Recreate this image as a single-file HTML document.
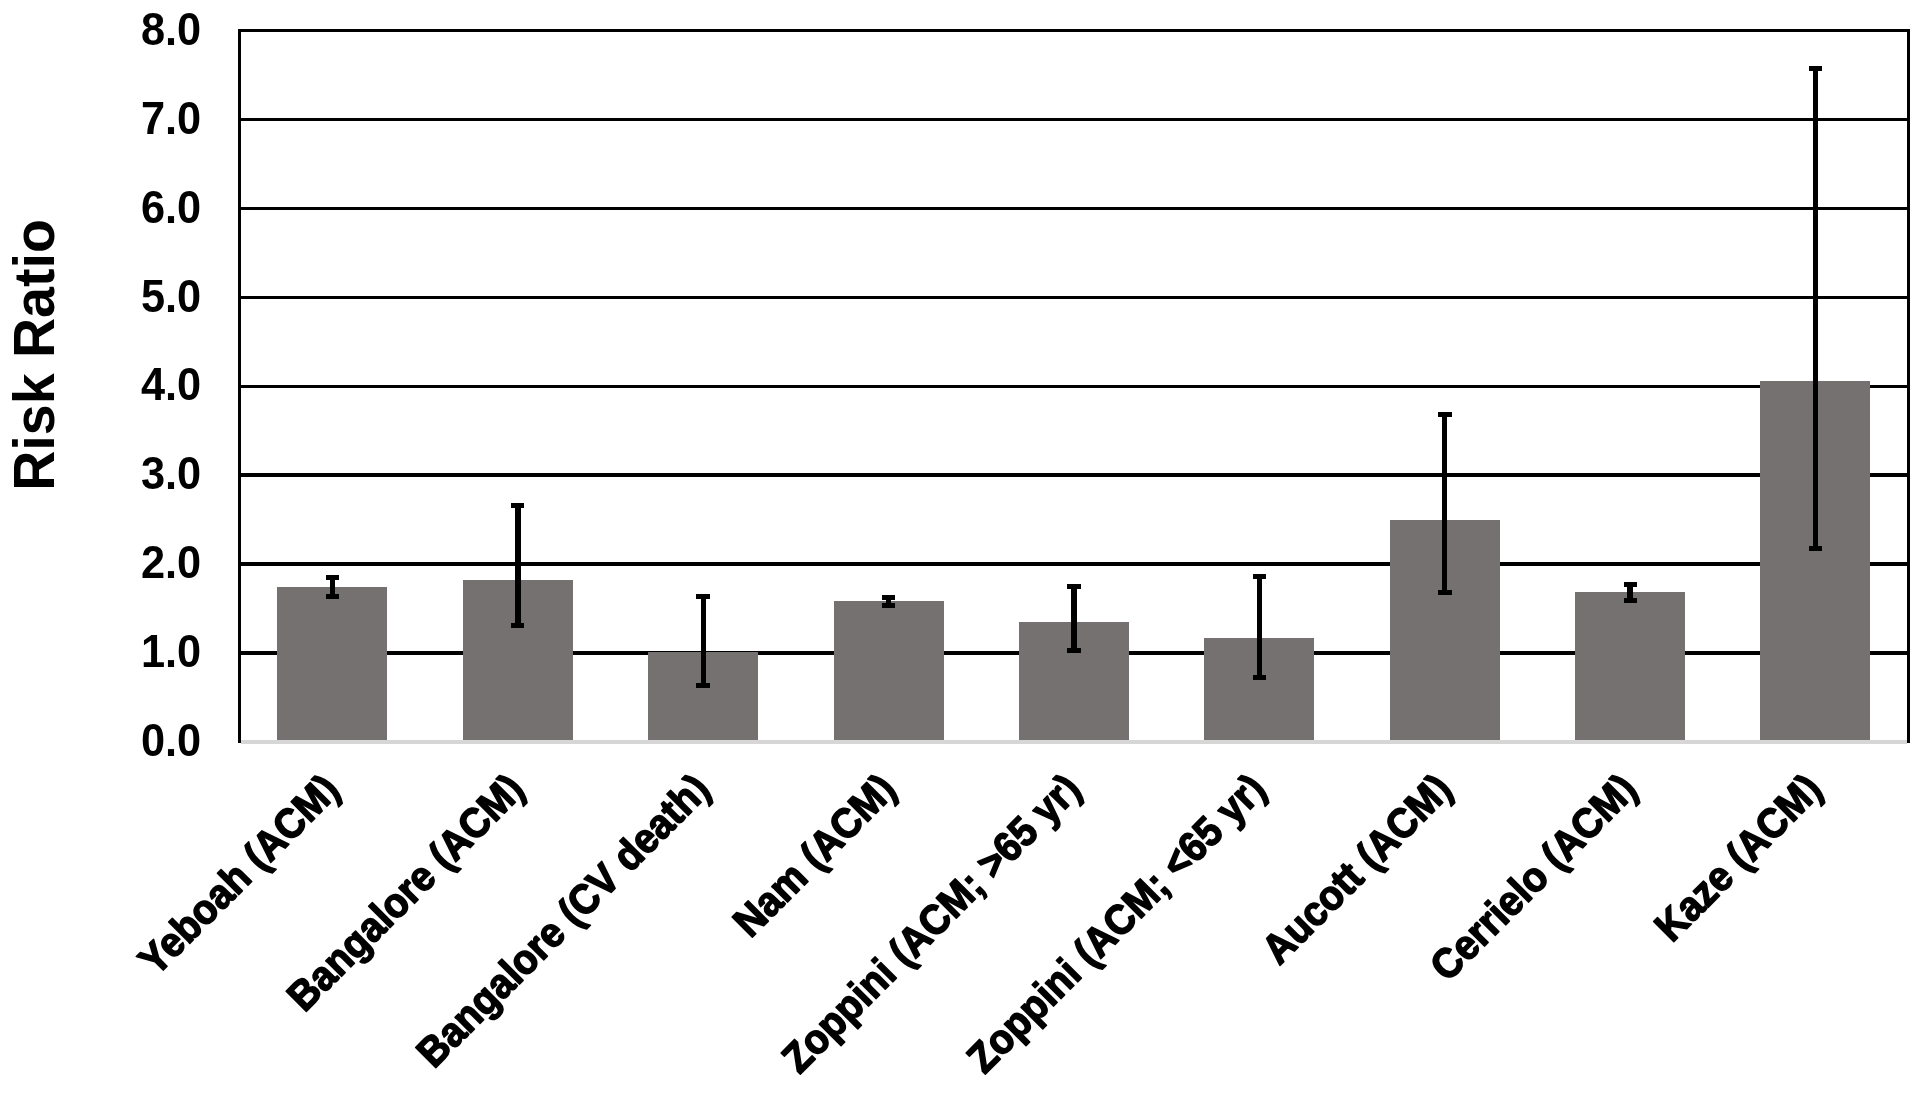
<!DOCTYPE html>
<html lang="en">
<head>
<meta charset="utf-8">
<title>Risk Ratio chart</title>
<style>
html,body{margin:0;padding:0;background:#fff;}
body{width:1926px;height:1094px;overflow:hidden;}
svg{display:block;will-change:transform;}
text{font-family:"Liberation Sans",sans-serif;font-weight:bold;fill:#000;}
</style>
</head>
<body>
<svg width="1926" height="1094" viewBox="0 0 1926 1094">
<rect x="0" y="0" width="1926" height="1094" fill="#fff"/>
<g shape-rendering="crispEdges">
<g fill="#000">
<rect x="238" y="29" width="1672" height="3"/>
<rect x="238" y="118" width="1672" height="3"/>
<rect x="238" y="207" width="1672" height="3"/>
<rect x="238" y="296" width="1672" height="3"/>
<rect x="238" y="385" width="1672" height="3"/>
<rect x="238" y="473" width="1672" height="4"/>
<rect x="238" y="562" width="1672" height="4"/>
<rect x="238" y="651" width="1672" height="4"/>
<rect x="238" y="29" width="3" height="714"/>
<rect x="1907" y="29" width="3" height="714"/>
</g>
<rect x="241" y="740" width="1666" height="4" fill="#d6d6d6"/>
<g fill="#767171">
<rect x="277" y="587" width="110" height="153"/>
<rect x="463" y="580" width="110" height="160"/>
<rect x="648" y="652" width="110" height="88"/>
<rect x="834" y="601" width="110" height="139"/>
<rect x="1019" y="622" width="110" height="118"/>
<rect x="1204" y="638" width="110" height="102"/>
<rect x="1390" y="520" width="110" height="220"/>
<rect x="1575" y="592" width="110" height="148"/>
<rect x="1760" y="381" width="110" height="359"/>
</g>
<g fill="#000">
<rect x="330" y="575" width="5" height="24"/>
<rect x="326" y="575" width="13" height="5"/>
<rect x="326" y="594" width="13" height="5"/>
<rect x="515" y="503" width="6" height="125"/>
<rect x="511" y="503" width="13" height="5"/>
<rect x="511" y="623" width="13" height="5"/>
<rect x="701" y="594" width="5" height="94"/>
<rect x="696" y="594" width="14" height="5"/>
<rect x="696" y="683" width="14" height="5"/>
<rect x="886" y="595" width="5" height="13"/>
<rect x="882" y="595" width="13" height="5"/>
<rect x="882" y="603" width="13" height="5"/>
<rect x="1071" y="584" width="6" height="69"/>
<rect x="1067" y="584" width="14" height="5"/>
<rect x="1067" y="648" width="14" height="5"/>
<rect x="1257" y="574" width="5" height="106"/>
<rect x="1253" y="574" width="13" height="5"/>
<rect x="1253" y="675" width="13" height="5"/>
<rect x="1442" y="412" width="5" height="183"/>
<rect x="1438" y="412" width="14" height="5"/>
<rect x="1438" y="590" width="14" height="5"/>
<rect x="1627" y="582" width="6" height="21"/>
<rect x="1624" y="582" width="13" height="5"/>
<rect x="1624" y="598" width="13" height="5"/>
<rect x="1813" y="66" width="5" height="485"/>
<rect x="1809" y="66" width="13" height="5"/>
<rect x="1809" y="546" width="13" height="5"/>
</g>
</g>
<g font-size="44" text-anchor="end">
<text transform="translate(201.2 44.9) scale(0.985 1.03)">8.0</text>
<text transform="translate(201.2 133.775) scale(0.985 1.03)">7.0</text>
<text transform="translate(201.2 222.65) scale(0.985 1.03)">6.0</text>
<text transform="translate(201.2 311.525) scale(0.985 1.03)">5.0</text>
<text transform="translate(201.2 400.4) scale(0.985 1.03)">4.0</text>
<text transform="translate(201.2 489.275) scale(0.985 1.03)">3.0</text>
<text transform="translate(201.2 578.15) scale(0.985 1.03)">2.0</text>
<text transform="translate(201.2 667.025) scale(0.985 1.03)">1.0</text>
<text transform="translate(201.2 755.9) scale(0.985 1.03)">0.0</text>
</g>
<text font-size="56" text-anchor="middle" transform="translate(53.8 355) rotate(-90) scale(0.992 1.025)">Risk Ratio</text>
<g font-size="40" text-anchor="end" stroke="#000" stroke-width="1.5" stroke-linejoin="round">
<text transform="translate(341.5 791.8) rotate(-45) scale(0.9675 1.04)">Yeboah (ACM)</text>
<text transform="translate(526.4 791.3) rotate(-45) scale(0.9675 1.04)">Bangalore (ACM)</text>
<text transform="translate(712 791.5) rotate(-45) scale(0.9675 1.04)">Bangalore (CV death)</text>
<text transform="translate(898 791.5) rotate(-45) scale(0.9675 1.04)">Nam (ACM)</text>
<text transform="translate(1083 791.5) rotate(-45) scale(0.9675 1.04)">Zoppini (ACM; &gt;65 yr)</text>
<text transform="translate(1268 791.5) rotate(-45) scale(0.9675 1.04)">Zoppini (ACM; &lt;65 yr)</text>
<text transform="translate(1454 791.5) rotate(-45) scale(0.9675 1.04)">Aucott (ACM)</text>
<text transform="translate(1639 791.5) rotate(-45) scale(0.9675 1.04)">Cerrielo (ACM)</text>
<text transform="translate(1824 791.5) rotate(-45) scale(0.9675 1.04)">Kaze (ACM)</text>
</g>
</svg>
</body>
</html>
